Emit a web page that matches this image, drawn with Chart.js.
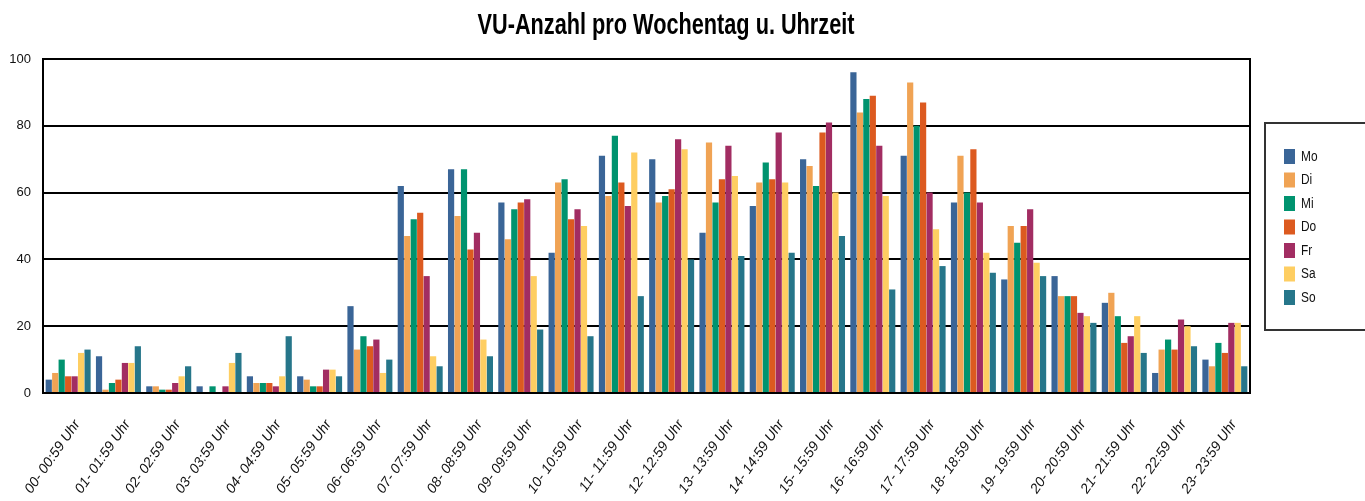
<!DOCTYPE html>
<html>
<head>
<meta charset="utf-8">
<script src="https://cdn.jsdelivr.net/npm/chart.js@4.4.1/dist/chart.umd.min.js"></script>
<style>
  html, body { margin: 0; padding: 0; background: #fff; }
  #wrap { width: 1365px; height: 501px; }
</style>
</head>
<body>
<div id="wrap"><canvas id="VuChart" width="1365" height="501"></canvas></div>
<script>
const hours = [
  '00- 00:59 Uhr', '01- 01:59 Uhr', '02- 02:59 Uhr', '03- 03:59 Uhr',
  '04- 04:59 Uhr', '05- 05:59 Uhr', '06- 06:59 Uhr', '07- 07:59 Uhr',
  '08- 08:59 Uhr', '09- 09:59 Uhr', '10- 10:59 Uhr', '11- 11:59 Uhr',
  '12- 12:59 Uhr', '13- 13:59 Uhr', '14- 14:59 Uhr', '15- 15:59 Uhr',
  '16- 16:59 Uhr', '17- 17:59 Uhr', '18- 18:59 Uhr', '19- 19:59 Uhr',
  '20- 20:59 Uhr', '21- 21:59 Uhr', '22- 22:59 Uhr', '23- 23:59 Uhr'
];

const days = ['Mo', 'Di', 'Mi', 'Do', 'Fr', 'Sa', 'So'];

const mo = [4, 11, 2, 2, 5, 5, 26, 62, 67, 57, 42, 71, 70, 48, 56, 70, 96, 71, 57, 34, 35, 27, 6, 10];
const di = [6, 1, 2, 0, 3, 4, 13, 47, 53, 46, 63, 59, 57, 75, 63, 68, 84, 93, 71, 50, 29, 30, 13, 8];
const mi = [10, 3, 1, 2, 3, 2, 17, 52, 67, 55, 64, 77, 59, 57, 69, 62, 88, 80, 60, 45, 29, 23, 16, 15];
const dO = [5, 4, 1, 0, 3, 2, 14, 54, 43, 57, 52, 63, 61, 64, 64, 78, 89, 87, 73, 50, 29, 15, 13, 12];
const fr = [5, 9, 3, 2, 2, 7, 16, 35, 48, 58, 55, 56, 76, 74, 78, 81, 74, 60, 57, 55, 24, 17, 22, 21];
const sa = [12, 9, 5, 9, 5, 7, 6, 11, 16, 35, 50, 72, 73, 65, 63, 60, 59, 49, 42, 39, 23, 23, 20, 21];
const so = [13, 14, 8, 12, 17, 5, 10, 8, 11, 19, 17, 29, 40, 41, 42, 47, 31, 38, 36, 35, 21, 12, 14, 8];

const yTicks = [0, 20, 40, 60, 80, 100];

const colors = ['#3A6597', '#F0A354', '#00936F', '#DC5A20', '#A22D62', '#FECE62', '#26768A'];
const values = [mo, di, mi, dO, fr, sa, so];

const narrow = '"Liberation Sans Narrow", "Liberation Sans", Arial, sans-serif';
const titleText = 'VU-Anzahl pro Wochentag u. Uhrzeit';

// title, frame and boxed legend are drawn by hand
const decorations = {
  id: 'decorations',
  afterDraw(chart) {
    const c = chart.ctx;
    const a = chart.chartArea;

    // squeezed bold title
    c.save();
    c.font = 'bold 30px ' + narrow;
    const w = c.measureText(titleText).width;
    c.translate(666, 34);
    c.scale(377 / w, 1);
    c.fillStyle = '#000';
    c.textAlign = 'center';
    c.textBaseline = 'alphabetic';
    c.fillText(titleText, 0, 0);
    c.restore();

    // plot frame
    c.save();
    c.strokeStyle = '#000';
    c.lineWidth = 2;
    c.strokeRect(a.left, a.top, a.right - a.left, a.bottom - a.top);
    c.restore();

    // legend box
    const bx = a.right + 15;
    const by = 123;
    c.save();
    c.strokeStyle = '#333';
    c.lineWidth = 2;
    c.strokeRect(bx, by, 130, 207);
    c.font = '14px ' + narrow;
    c.textBaseline = 'middle';
    chart.data.datasets.forEach((ds, i) => {
      const y = by + 26 + i * 23.5;
      c.fillStyle = ds.backgroundColor;
      c.fillRect(bx + 19, y, 11, 15);
      c.fillStyle = '#111';
      c.save();
      c.translate(bx + 36, y + 8);
      c.scale(0.85, 1);
      c.fillText(ds.label, 0, 0);
      c.restore();
    });
    c.restore();
  }
};

const ctx = document.getElementById('VuChart').getContext('2d');

new Chart(ctx, {
  type: 'bar',
  data: {
    labels: hours,
    datasets: days.map((d, i) => ({
      label: d,
      data: values[i],
      backgroundColor: colors[i],
      borderWidth: 0,
      barPercentage: 0.96,
      categoryPercentage: 0.9
    }))
  },
  options: {
    responsive: false,
    animation: false,
    layout: {
      padding: { top: 59, right: 115, bottom: 0, left: 0 }
    },
    plugins: {
      legend: { display: false },
      title: { display: false },
      tooltip: { enabled: false }
    },
    scales: {
      x: {
        grid: { display: false },
        border: { display: false },
        ticks: {
          autoSkip: false,
          minRotation: 55,
          maxRotation: 55,
          padding: 16,
          labelOffset: 9,
          color: '#111',
          font: { family: narrow, size: 14, style: 'italic' }
        },
        afterFit(scale) {
          scale.height = 108;
          scale.paddingLeft = 0;
          scale.paddingRight = 0;
        }
      },
      y: {
        min: 0,
        max: 100,
        afterBuildTicks(scale) {
          scale.ticks = yTicks.map(v => ({ value: v }));
        },
        grid: { color: '#000', lineWidth: 2, drawTicks: false },
        border: { display: false },
        ticks: {
          padding: 12,
          color: '#111',
          font: { family: narrow, size: 13 }
        },
        afterFit(scale) { scale.width = 43; }
      }
    }
  },
  plugins: [decorations]
});
</script>
</body>
</html>
